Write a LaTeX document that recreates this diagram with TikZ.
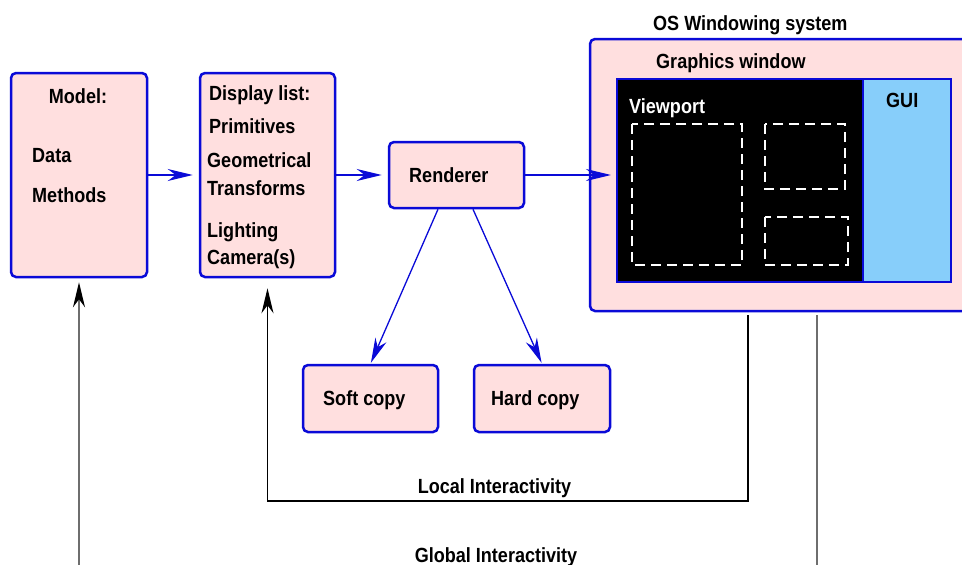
\documentclass[tikz,border=0pt]{standalone}
\usepackage{fontspec}
\setmainfont{Liberation Sans}[FakeStretch=0.88]
\usepackage{tikz}
\usetikzlibrary{arrows.meta}
\definecolor{BoxPink}{RGB}{255,223,223}
\definecolor{BoxBlue}{RGB}{10,10,215}
\definecolor{GuiBlue}{RGB}{135,206,250}
\definecolor{GlobalGray}{RGB}{110,110,110}

\begin{document}
\begin{tikzpicture}[x=1pt,y=-1pt,font=\fontsize{20.5}{24}\selectfont\bfseries,
  blk/.style n args={2}{draw=BoxBlue,fill=BoxPink,line width=2.5pt,rounded corners=5pt,minimum width=#1pt,minimum height=#2pt,inner sep=0pt,rectangle},
  lbl/.style={anchor=base west,inner sep=0pt},
  tip/.style={-{Stealth[length=25pt,width=12pt,inset=8pt,#1]}},
  flow/.style={tip=BoxBlue,draw=BoxBlue,line width=1.3pt,shorten >=#1},
  flow/.default=6pt]
\useasboundingbox (0,0) rectangle (962,565);
% boxes of the pipeline
\node[blk={136}{204}](model) at(79,175) {};
\node[blk={135}{204}](disp) at(267.5,175) {};
\node[blk={135}{66}](rend) at(456.5,175) {};
\node[blk={135}{67}](soft) at(370.5,398.5) {};
\node[blk={136}{67}](hard) at(542,398.5) {};
\node[blk={380}{272}](win) at(780,175) {};
\node[draw=BoxBlue,fill=black,line width=2pt,minimum width=246pt,minimum height=203pt,inner sep=0pt](vp) at(740,180.5) {};
\node[draw=BoxBlue,fill=GuiBlue,line width=2pt,minimum width=88pt,minimum height=203pt,inner sep=0pt](gui) at(907,180.5) {};
% viewports inside the graphics window
\foreach \xa/\ya/\xb/\yb in %
{632/124/742/265,765/124/845/189,765/217/848/265} {
   \draw[white,line width=2pt,dash pattern=on 10pt off 6pt] (\xa,\ya) rectangle (\xb,\yb);
}
% texts
\node[anchor=base,inner sep=0pt](tmodel) at(78,103) {Model:};
\foreach \y/\1 in %
{162/Data,202/Methods} {
   \node[lbl](t\1) at(32,\y) {\1};
}
\node[lbl](tdisp) at(209,100) {Display list:};
\node[lbl](tprim) at(209,133) {Primitives};
\foreach \y/\1 in %
{167/Geometrical,195/Transforms,237/Lighting,264/Camera(s)} {
   \node[lbl] at(207,\y) {\1};
}
\node[lbl](trend) at(409,182) {Renderer};
\node[lbl](tsoft) at(323,405) {Soft copy};
\node[lbl](thard) at(491,405) {Hard copy};
\node[lbl](tos) at(653,30) {OS Windowing system};
\node[lbl](tgw) at(656,68) {Graphics window};
\node[lbl,white](tvp) at(629,113) {Viewport};
\node[lbl](tgui) at(886,107) {GUI};
\node[anchor=base,inner sep=0pt](tlocal) at(494.5,493) {Local Interactivity};
\node[anchor=base,inner sep=0pt](tglobal) at(496,562) {Global Interactivity};
% data flow
\draw[flow] (model) -- (disp);
\draw[flow] (disp) -- (rend);
\draw[flow=5pt] (rend.east) -- (rend.east -| vp.west);
\draw[flow=1pt] ([xshift=-18.5pt]rend.south) -- (soft.north);
\draw[flow=1pt] ([xshift=16.5pt]rend.south) -- (hard.north);
% interaction loops
\coordinate (lc) at (267.5,501);
\coordinate (gr) at (817,565);
\coordinate (gl) at (79,565);
\draw[tip=black,line width=1.3pt,shorten <=3pt,shorten >=10pt] ([xshift=-32pt]win.south) |- (lc) -- (disp.south);
\draw[GlobalGray,line width=2pt,shorten <=3pt] ([xshift=37pt]win.south) -- (gr);
\draw[tip=black,GlobalGray,line width=1.5pt,shorten >=4pt] (gl) -- (model.south);
\end{tikzpicture}
\end{document}
